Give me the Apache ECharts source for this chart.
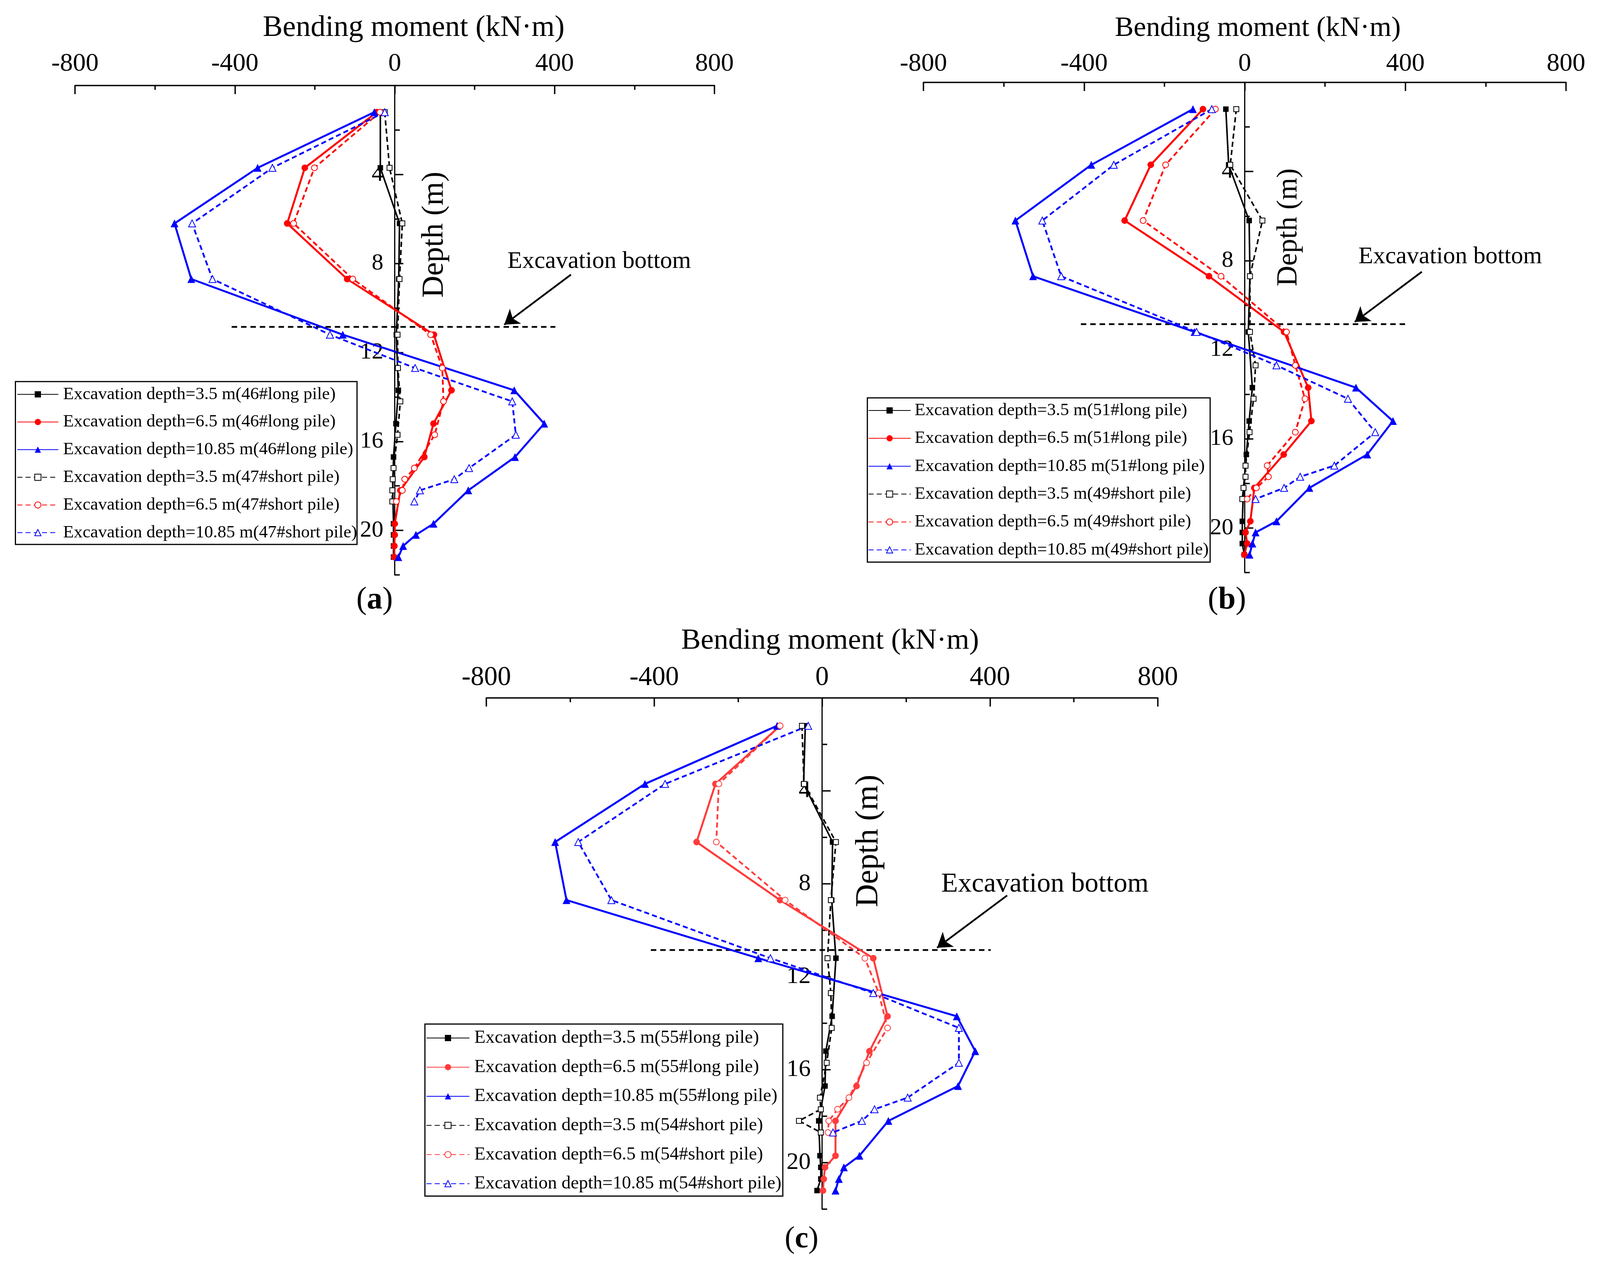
<!DOCTYPE html>
<html>
<head>
<meta charset="utf-8">
<script src="https://cdn.jsdelivr.net/npm/echarts@6/dist/echarts.min.js"></script>
<style>
html,body{margin:0;padding:0;background:#ffffff;}
#chart{width:4098px;height:3262px;}
</style>
</head>
<body>
<div id="chart"></div>
<script>
// ---------------- DATA ----------------
const depthLong  = [1.2, 3.7, 6.2, 8.7, 11.2, 13.7, 15.2, 16.7, 18.2, 19.7, 20.2, 20.7, 21.2];
const depthShort = [1.2, 3.7, 6.2, 8.7, 11.2, 12.7, 14.2, 15.7, 17.2, 17.7, 18.2, 18.7];

const xTickValues = [-800, -400, 0, 400, 800];
const yLabelValues = [4, 8, 12, 16, 20];
const yMinorValues = [2, 6, 10, 14, 18, 22];

const excavationDepths = ['3.5', '6.5', '10.85'];
const pileIds = [
  { long: '46', short: '47' },
  { long: '51', short: '49' },
  { long: '55', short: '54' }
];

// panel (a)
const aLong35    = [-36, -36, 12, 10, 4, 9, 3, -3, -5, -3, -3, -3, -3];
const aLong65    = [-45, -225, -269, -119, 98, 142, 97, 74, 14, 0, 0, -1, -1];
const aLong1085  = [-51, -343, -551, -509, -130, 299, 374, 301, 184, 97, 53, 21, 9];
const aShort35   = [-25, -13, 19, 12, 7, 8, 14, 7, -3, -5, -6, -6];
const aShort65   = [-37, -201, -253, -105, 90, 119, 122, 100, 49, 25, 19, 4];
const aShort1085 = [-25, -306, -507, -456, -162, 51, 294, 303, 186, 149, 63, 49];

// panel (b)
const bLong35    = [-47, -40, 11, 13, 9, 19, 11, 4, -3, -6, -6, -6, -1];
const bLong65    = [-104, -234, -299, -89, 98, 158, 166, 97, 24, 14, 2, 6, -1];
const bLong1085  = [-129, -382, -571, -527, -125, 277, 369, 305, 161, 79, 27, 19, 12];
const bShort35   = [-21, -36, 44, 13, 13, 27, 22, 12, 2, 2, -3, -6];
const bShort65   = [-73, -197, -253, -59, 104, 126, 150, 126, 56, 59, 29, 6];
const bShort1085 = [-82, -326, -504, -457, -120, 79, 257, 325, 223, 138, 98, 27];

// panel (c)
const cLong35    = [-40, -44, 25, 23, 33, 24, 9, 7, -8, -5, -3, -3, -12];
const cLong65    = [-100, -254, -299, -100, 122, 156, 113, 82, 32, 32, 7, 4, 2];
const cLong1085  = [-107, -422, -636, -609, -152, 321, 365, 324, 158, 89, 52, 40, 32];
const cShort35   = [-48, -43, 33, 21, 13, 21, 23, 11, -5, -3, -55, -3];
const cShort65   = [-100, -246, -252, -88, 102, 135, 156, 106, 64, 37, 16, 14];
const cShort1085 = [-33, -374, -581, -502, -123, 122, 326, 326, 204, 125, 95, 26];

// excavation bottom line and arrow (value, depth)
const excavationLine = [[-408, 10.85], [402, 10.85]];
const arrowFrom = [441, 8.5];
const arrowTo   = [274, 10.75];
const excTextAnchor = [[282, 8.28], [283, 8.19], [284, 8.42]];

const panelValues = [
  { long: [aLong35, aLong65, aLong1085], short: [aShort35, aShort65, aShort1085] },
  { long: [bLong35, bLong65, bLong1085], short: [bShort35, bShort65, bShort1085] },
  { long: [cLong35, cLong65, cLong1085], short: [cShort35, cShort65, cShort1085] }
];
const panelLetters = ['a', 'b', 'c'];

// ---------------- LAYOUT / STYLE ----------------
const FONT = '"Liberation Serif","Times New Roman",serif';
const P = [
  { grid:{left:192, top:219, width:1637, height:1253}, red:'#ff0000', tickFont:66, tickMargin:22, yFont:60,
    title:{x:1059, y:72, size:76}, depth:{x:1113, y:601, size:78}, excFont:62,
    label:{x:959, y:1537, size:80},
    legend:{left:43.4, top:986.7, itemWidth:105, gap:24.8, font:45, lh:46, pad:7},
    box:[39.5, 977, 874.5, 417] },
  { grid:{left:2364, top:211, width:1645, height:1255}, red:'#ff0000', tickFont:66, tickMargin:14, yFont:60,
    title:{x:3220, y:73.5, size:72}, depth:{x:3300, y:582, size:73}, excFont:62,
    label:{x:3141, y:1537, size:80},
    legend:{left:2222.4, top:1027.9, itemWidth:108, gap:25.4, font:45, lh:46, pad:5},
    box:[2220.4, 1018.75, 877.6, 420.5] },
  { grid:{left:1245, top:1787, width:1719, height:1309}, red:'#ff3c3c', tickFont:69, tickMargin:17, yFont:62,
    title:{x:2125, y:1641, size:75}, depth:{x:2224, y:2153, size:82}, excFont:70,
    label:{x:2052, y:3174, size:78},
    legend:{left:1090.8, top:2633.8, itemWidth:110, gap:26.6, font:47, lh:48, pad:7.5},
    box:[1087.8, 2622, 916.2, 440.5] }
];

const colorsFor = (p) => ['#000000', p.red, '#0000ff'];
const solidSymbols = [['rect', 14], ['circle', 17], ['triangle', 20]];
const emptySymbols = [['emptyRect', 13], ['emptyCircle', 15], ['emptyTriangle', 18]];

function lineSeries(name, depths, vals, color, dashed, symbol, size, i, width) {
  return {
    type: 'line', name: name, xAxisIndex: i, yAxisIndex: 2 * i,
    data: vals.map((v, k) => [v, depths[k]]),
    symbol: symbol, symbolSize: size,
    lineStyle: { color: color, width: width, type: dashed ? [13, 8] : 'solid' },
    itemStyle: { color: color, borderColor: color, borderWidth: symbol.indexOf('empty') === 0 ? 3 : 0 },
    emphasis: { disabled: true }, animation: false, clip: false, z: 3
  };
}

const grids = [], xAxes = [], yAxes = [], series = [], legends = [];

P.forEach((p, i) => {
  grids.push(Object.assign({ containLabel: false }, p.grid));
  xAxes.push({
    gridIndex: i, type: 'value', position: 'top',
    min: xTickValues[0], max: xTickValues[xTickValues.length - 1], interval: 400,
    axisLine: { onZero: false, lineStyle: { color: '#000', width: 3.5 } },
    axisTick: { inside: true, length: 22, lineStyle: { color: '#000', width: 3.5 } },
    minorTick: { show: true, splitNumber: 2, length: 11, lineStyle: { color: '#000', width: 3.5 } },
    axisLabel: { color: '#000', fontFamily: FONT, fontSize: p.tickFont, margin: p.tickMargin },
    splitLine: { show: false }, minorSplitLine: { show: false }
  });
  const zeroOffset = -p.grid.width / 2; // puts the depth axis at bending moment = 0
  // main y axis: line, labels, short ticks
  yAxes.push({
    gridIndex: i, type: 'value', inverse: true, min: 0, max: 22, interval: 2,
    position: 'left', offset: zeroOffset,
    axisLine: { onZero: false, lineStyle: { color: '#000', width: 3 } },
    axisTick: { inside: true, length: 13, customValues: yMinorValues, lineStyle: { color: '#000', width: 3.5 } },
    axisLabel: { color: '#000', fontFamily: FONT, fontSize: p.yFont, margin: 29,
      customValues: yLabelValues,
      formatter: v => (yLabelValues.indexOf(v) >= 0 ? String(v) : '') },
    splitLine: { show: false }
  });
  // overlay y axis: long (major) ticks only
  yAxes.push({
    gridIndex: i, type: 'value', inverse: true, min: 0, max: 22, interval: 4,
    position: 'left', offset: zeroOffset,
    axisLine: { show: false, onZero: false },
    axisTick: { inside: true, length: 22, customValues: yLabelValues, lineStyle: { color: '#000', width: 3.5 } },
    axisLabel: { show: false }, splitLine: { show: false }
  });

  const cols = colorsFor(p);
  const names = [];
  excavationDepths.forEach((d, k) => {
    const nm = 'Excavation depth=' + d + ' m(' + pileIds[i].long + '#long pile)';
    names.push(nm);
    series.push(lineSeries(nm, depthLong, panelValues[i].long[k], cols[k], false,
      solidSymbols[k][0], solidSymbols[k][1], i, k === 0 ? 4 : 5));
  });
  excavationDepths.forEach((d, k) => {
    const nm = 'Excavation depth=' + d + ' m(' + pileIds[i].short + '#short pile)';
    names.push(nm);
    series.push(lineSeries(nm, depthShort, panelValues[i].short[k], cols[k], true,
      emptySymbols[k][0], emptySymbols[k][1], i, k === 0 ? 4 : 4.5));
  });
  // excavation bottom
  series.push({
    type: 'line', name: 'bottom_' + i, xAxisIndex: i, yAxisIndex: 2 * i,
    data: excavationLine, symbol: 'none', silent: true, animation: false, z: 2,
    lineStyle: { color: '#000', width: 4.5, type: [14, 10] },
    markLine: {
      silent: true, animation: false, symbol: ['none', 'arrow'], symbolSize: 36,
      lineStyle: { color: '#000', width: 4.5, type: 'solid' }, label: { show: false },
      data: [[{ coord: arrowFrom }, { coord: arrowTo }]]
    }
  });
  legends.push({
    data: names, orient: 'vertical', left: p.legend.left, top: p.legend.top,
    itemWidth: p.legend.itemWidth, itemHeight: 20, itemGap: p.legend.gap, padding: 0,
    selectedMode: false,
    textStyle: { color: '#000', fontFamily: FONT, fontSize: p.legend.font, lineHeight: p.legend.lh,
      padding: [0, 0, 0, p.legend.pad] }
  });
});

const chart = echarts.init(document.getElementById('chart'), null, { renderer: 'canvas' });
chart.setOption({
  backgroundColor: '#ffffff', animation: false,
  grid: grids, xAxis: xAxes, yAxis: yAxes, series: series, legend: legends
});

// ---------------- TEXT & BOXES ----------------
const graphics = [];
P.forEach((p, i) => {
  graphics.push({ type: 'rect', silent: true, z: 10,
    shape: { x: p.box[0], y: p.box[1], width: p.box[2], height: p.box[3] },
    style: { fill: 'none', stroke: '#000', lineWidth: 3 } });
  graphics.push({ type: 'text', silent: true, z: 10, x: p.title.x, y: p.title.y,
    style: { text: 'Bending moment (kN·m)', fill: '#000', fontFamily: FONT, fontSize: p.title.size,
      textAlign: 'center', textVerticalAlign: 'middle' } });
  graphics.push({ type: 'text', silent: true, z: 10, x: p.depth.x, y: p.depth.y, rotation: Math.PI / 2,
    style: { text: 'Depth (m)', fill: '#000', fontFamily: FONT, fontSize: p.depth.size,
      textAlign: 'center', textVerticalAlign: 'middle' } });
  const ep = chart.convertToPixel({ xAxisIndex: i, yAxisIndex: 2 * i }, excTextAnchor[i]);
  graphics.push({ type: 'text', silent: true, z: 10, x: ep[0], y: ep[1] - 0.3375 * p.excFont,
    style: { text: 'Excavation bottom', fill: '#000', fontFamily: FONT, fontSize: p.excFont,
      textAlign: 'left', textVerticalAlign: 'middle' } });
  graphics.push({ type: 'text', silent: true, z: 10, x: p.label.x, y: p.label.y,
    style: { text: '({b|' + panelLetters[i] + '})', fill: '#000', fontFamily: FONT, fontSize: p.label.size,
      textAlign: 'center', textVerticalAlign: 'middle',
      rich: { b: { fontWeight: 'bold', fontFamily: FONT, fontSize: p.label.size, fill: '#000' } } } });
});
chart.setOption({ graphic: graphics });
</script>
</body>
</html>
